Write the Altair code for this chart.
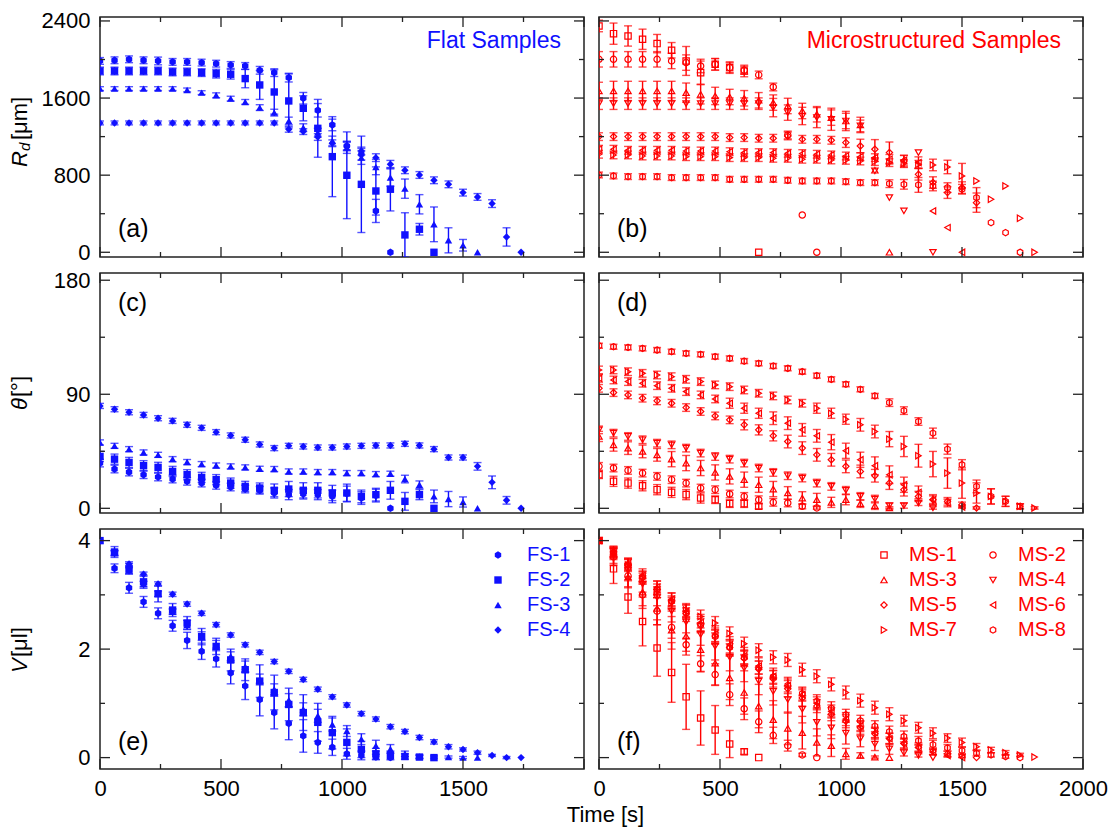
import altair as alt
import pandas as pd

# ---------------- data ----------------
TIME = [0, 60, 120, 180, 240, 300, 360, 420, 480, 540, 600, 660, 720, 780, 840, 900,
        960, 1020, 1080, 1140, 1200, 1260, 1320, 1380, 1440, 1500, 1560, 1620, 1680, 1740, 1800]

FS_NAMES = ["FS-1", "FS-2", "FS-3", "FS-4"]
MS_NAMES = ["MS-1", "MS-2", "MS-3", "MS-4", "MS-5", "MS-6", "MS-7", "MS-8"]
MS_LEGEND_ORDER = ["MS-1", "MS-3", "MS-5", "MS-7", "MS-2", "MS-4", "MS-6", "MS-8"]

# (a) contact radius, flat samples [um]
FS1_RD = [1985, 1992, 2002, 1992, 1985, 1975, 1975, 1968, 1957, 1943, 1933, 1888, 1864, 1812, 1598, 1473, 1321, 1103, 1017, 429, 0]
FS2_RD = [1881, 1881, 1881, 1881, 1881, 1871, 1871, 1864, 1853, 1847, 1802, 1736, 1663, 1570, 1494, 1286, 992, 799, 705, 636, 654, 180, 239, 0]
FS3_RD = [1698, 1698, 1698, 1698, 1698, 1698, 1684, 1656, 1629, 1594, 1560, 1501, 1449, 1362, 1293, 1241, 1155, 1086, 982, 885, 775, 660, 498, 290, 124, 73, 0]
FS4_RD = [1342, 1342, 1342, 1342, 1342, 1342, 1342, 1342, 1342, 1342, 1342, 1342, 1342, 1276, 1252, 1196, 1131, 1103, 1051, 982, 913, 851, 802, 747, 705, 619, 574, 505, 159, 0]
FS1_RD_E = [35, 35, 35, 35, 40, 35, 35, 35, 35, 35, 35, 40, 40, 45, 60, 70, 60, 50, 60, 120, 0]
FS2_RD_E = [40, 40, 40, 40, 40, 40, 40, 40, 45, 50, 95, 150, 230, 280, 130, 300, 415, 450, 500, 250, 225, 230, 60, 0]
FS3_RD_E = [20, 20, 20, 20, 20, 20, 20, 20, 25, 25, 25, 30, 35, 40, 40, 45, 50, 60, 70, 80, 90, 100, 100, 180, 130, 60, 0]
FS4_RD_E = [20, 20, 20, 20, 20, 20, 20, 20, 20, 20, 20, 20, 20, 30, 30, 35, 35, 40, 40, 40, 40, 35, 35, 35, 35, 35, 35, 40, 95, 0]

# (c) contact angle, flat samples [deg]
FS1_TH = [35.7, 31.0, 28.6, 26.5, 24.7, 23.1, 21.3, 19.9, 18.1, 16.8, 15.2, 14.2, 12.1, 10.8, 11.3, 10.8, 9.4, 11.5, 8.1, 10.0, 0]
FS2_TH = [40.9, 38.8, 36.2, 33.6, 32.3, 29.1, 26.5, 24.4, 22.6, 19.9, 17.3, 16.0, 14.2, 15.2, 14.2, 14.2, 12.1, 12.1, 9.4, 10.8, 14.2, 5.5, 10.8, 0]
FS3_TH = [52.0, 49.3, 46.7, 44.1, 42.2, 38.8, 36.5, 34.9, 33.8, 33.1, 32.3, 31.2, 31.0, 29.1, 29.1, 28.6, 28.6, 27.8, 27.8, 27.0, 27.3, 23.1, 18.6, 9.4, 7.3, 5.0, 0]
FS4_TH = [80.8, 78.2, 75.8, 73.7, 71.1, 69.0, 65.9, 63.5, 60.1, 57.5, 54.1, 50.4, 47.5, 49.3, 48.8, 48.0, 48.0, 48.8, 49.3, 49.6, 49.6, 50.9, 49.6, 46.7, 40.1, 40.1, 33.1, 20.5, 6.3, 0]
FS1_TH_E = [3, 3, 3, 3, 3, 3, 3, 3, 3, 3, 3, 3, 4, 4, 4, 4, 5, 6, 5, 5, 0]
FS2_TH_E = [4, 4, 4, 4, 4, 4, 4, 4, 4, 4, 4, 4, 5, 6, 6, 6, 6, 7, 5, 5, 7, 7, 4, 0]
FS3_TH_E = [2, 2, 2, 2, 2, 2, 2, 2, 2, 2, 2, 2, 2, 2, 2, 2, 2, 2, 2, 2, 2, 3, 3, 5, 6, 4, 0]
FS4_TH_E = [2, 2, 2, 2, 2, 2, 2, 2, 2, 2, 2, 2, 2, 2, 2, 2, 2, 2, 2, 2, 2, 2, 2, 2, 2, 2, 3, 5, 3, 0]

# (e) volume, flat samples [ul]
FS1_V = [4.0, 3.49, 3.13, 2.87, 2.66, 2.43, 2.16, 1.96, 1.82, 1.56, 1.32, 1.07, 0.83, 0.63, 0.40, 0.28, 0.19, 0.07, 0.04, 0.01, 0]
FS2_V = [4.0, 3.79, 3.48, 3.24, 3.02, 2.72, 2.48, 2.23, 2.05, 1.80, 1.62, 1.41, 1.20, 0.98, 0.83, 0.65, 0.46, 0.28, 0.15, 0.07, 0.04, 0.02, 0.01, 0]
FS3_V = [4.0, 3.77, 3.45, 3.20, 3.02, 2.69, 2.45, 2.24, 2.08, 1.87, 1.68, 1.44, 1.26, 1.06, 0.89, 0.77, 0.61, 0.49, 0.34, 0.22, 0.16, 0.07, 0.02, 0.01, 0.01, 0, 0]
FS4_V = [4.0, 3.77, 3.57, 3.38, 3.20, 3.01, 2.83, 2.66, 2.45, 2.26, 2.08, 1.94, 1.77, 1.59, 1.44, 1.26, 1.12, 0.97, 0.81, 0.71, 0.57, 0.48, 0.37, 0.29, 0.20, 0.15, 0.09, 0.04, 0.0, 0.0]
FS1_V_E = [0, 0.08, 0.1, 0.1, 0.1, 0.1, 0.15, 0.15, 0.15, 0.2, 0.25, 0.3, 0.3, 0.3, 0.3, 0.2, 0.15, 0.1, 0.08, 0.05, 0]
FS2_V_E = [0, 0.1, 0.1, 0.12, 0.15, 0.12, 0.12, 0.15, 0.15, 0.2, 0.2, 0.3, 0.32, 0.3, 0.33, 0.35, 0.3, 0.25, 0.15, 0.1, 0.08, 0.05, 0.03, 0]
FS3_V_E = [0, 0.05, 0.05, 0.05, 0.05, 0.05, 0.08, 0.08, 0.08, 0.08, 0.1, 0.1, 0.1, 0.12, 0.12, 0.12, 0.12, 0.1, 0.1, 0.1, 0.08, 0.05, 0.03, 0.02, 0.02, 0.02, 0]
FS4_V_E = [0, 0.04, 0.04, 0.04, 0.04, 0.04, 0.04, 0.04, 0.04, 0.04, 0.04, 0.04, 0.04, 0.04, 0.04, 0.04, 0.04, 0.04, 0.04, 0.04, 0.04, 0.04, 0.04, 0.04, 0.04, 0.03, 0.03, 0.02, 0.02, 0]

# (b) contact radius, microstructured samples [um]
MS1_RD = [2348, 2268, 2244, 2210, 2165, 2096, 1985, 1864, 1950, 1916, 1881, 0]
MS2_RD = [2002, 2002, 2002, 2002, 2002, 1985, 1968, 1933, 1950, 1916, 1888, 1840, 1715, 1217, 387, 0]
MS3_RD = [1674, 1674, 1674, 1674, 1674, 1674, 1656, 1639, 1622, 1611, 1598, 1577, 1553, 1518, 1466, 1432, 1397, 1362, 1321, 851, 0]
MS4_RD = [1542, 1542, 1542, 1542, 1542, 1542, 1542, 1542, 1542, 1542, 1542, 1542, 1501, 1449, 1414, 1397, 1380, 1362, 1311, 844, 567, 429, 1034, 0]
MS5_RD = [1200, 1200, 1200, 1200, 1200, 1200, 1200, 1200, 1200, 1190, 1190, 1183, 1183, 1207, 1172, 1172, 1162, 1138, 1103, 1069, 1034, 947, 809, 723, 619, 671, 515]
MS6_RD = [1069, 1069, 1058, 1058, 1058, 1058, 1051, 1051, 1051, 1044, 1034, 1034, 1034, 1027, 1024, 1017, 1010, 999, 992, 982, 965, 954, 930, 429, 256, 0]
MS7_RD = [1017, 1010, 1010, 999, 999, 999, 992, 992, 992, 982, 982, 982, 975, 975, 965, 965, 958, 954, 947, 941, 930, 920, 913, 906, 885, 792, 740, 550, 688, 353, 0]
MS8_RD = [802, 792, 785, 785, 785, 775, 775, 775, 775, 757, 757, 757, 757, 747, 740, 740, 740, 733, 723, 723, 712, 705, 699, 688, 671, 654, 567, 308, 204, 0]
MS1_RD_E = [60, 110, 105, 105, 95, 80, 150, 120, 60, 60, 60, 0]
MS2_RD_E = [80, 80, 80, 80, 80, 80, 80, 70, 60, 50, 40, 40, 40, 40, 0, 0]
MS3_RD_E = [90, 100, 100, 100, 100, 100, 100, 100, 90, 80, 80, 80, 80, 80, 80, 80, 80, 80, 80, 0, 0]
MS4_RD_E = [60, 60, 60, 60, 60, 60, 60, 60, 60, 60, 60, 60, 95, 80, 90, 104, 115, 100, 60, 0, 0, 0, 0, 0]
MS5_RD_E = [40, 40, 40, 40, 40, 40, 40, 40, 40, 40, 40, 40, 40, 40, 40, 40, 40, 50, 70, 100, 110, 60, 60, 60, 60, 60, 100]
MS6_RD_E = [40, 40, 40, 40, 40, 40, 40, 40, 40, 40, 40, 40, 40, 40, 40, 40, 40, 40, 40, 40, 50, 50, 60, 0, 0, 0]
MS7_RD_E = [40, 40, 40, 40, 40, 40, 40, 40, 40, 40, 40, 40, 40, 40, 40, 40, 40, 40, 40, 40, 40, 40, 40, 60, 70, 130, 0, 0, 0, 0, 0]
MS8_RD_E = [30, 30, 30, 30, 30, 30, 30, 30, 30, 30, 30, 30, 30, 30, 30, 30, 30, 30, 30, 30, 40, 50, 77, 50, 50, 50, 104, 0, 0, 0]

# (d) contact angle, microstructured samples [deg]
MS1_TH = [26.5, 21.3, 19.9, 17.8, 14.7, 12.6, 10.8, 8.1, 6.8, 3.7, 3.7, 1.6]
MS2_TH = [33.1, 31.8, 29.9, 27.8, 25.2, 22.6, 19.9, 16.0, 14.7, 11.3, 9.4, 6.8, 4.7, 4.2, 1.6, 0.3]
MS3_TH = [56.7, 50.1, 47.5, 44.9, 42.2, 38.8, 35.7, 31.8, 28.3, 25.2, 22.6, 18.6, 15.2, 12.1, 8.1, 6.8, 4.7, 6.8, 3.7, 2.1, 0.3]
MS4_TH = [61.9, 59.3, 56.7, 54.1, 51.4, 50.1, 47.5, 43.6, 40.9, 38.8, 35.7, 31.8, 28.3, 25.7, 23.9, 19.9, 17.3, 14.2, 9.4, 7.3, 2.1, 2.1, 4.2, 0.3]
MS5_TH = [94.7, 91.3, 89.5, 86.9, 84.8, 82.9, 79.5, 76.4, 72.9, 69.8, 65.9, 61.9, 57.2, 52.7, 47.5, 42.2, 38.3, 33.1, 29.1, 25.7, 19.9, 14.7, 9.4, 6.8, 5.5, 2.9, 0.3]
MS6_TH = [102.6, 101.3, 100.0, 98.7, 96.8, 94.7, 92.1, 89.5, 86.3, 82.9, 79.0, 75.0, 71.1, 67.2, 61.9, 57.2, 52.2, 45.4, 38.3, 33.6, 26.5, 18.6, 12.6, 6.8, 4.2, 1.0]
MS7_TH = [109.2, 109.2, 107.8, 106.5, 105.2, 103.9, 101.8, 100.0, 97.4, 96.0, 93.4, 90.8, 88.7, 85.5, 82.9, 79.0, 75.0, 70.3, 65.9, 60.6, 54.6, 48.8, 41.5, 34.9, 27.8, 19.9, 12.1, 9.4, 5.5, 1.6, 0.3]
MS8_TH = [128.3, 127.5, 127.0, 126.2, 124.9, 123.6, 122.3, 121.5, 119.7, 118.3, 116.2, 114.4, 112.3, 110.5, 107.8, 104.7, 101.8, 97.9, 93.9, 88.7, 83.4, 77.1, 68.5, 59.3, 46.7, 34.4, 17.3, 9.4, 5.5, 1.6]
MS1_TH_E = [3, 4, 4, 4, 4, 4, 4, 4, 3, 3, 3, 2]
MS2_TH_E = [3, 3, 3, 3, 3, 3, 3, 3, 3, 3, 3, 3, 3, 3, 2, 1]
MS3_TH_E = [4, 5, 5, 5, 5, 6, 6, 6, 6, 6, 6, 6, 6, 5, 5, 5, 4, 4, 3, 3, 1]
MS4_TH_E = [3, 3, 3, 3, 3, 3, 3, 3, 3, 3, 3, 3, 3, 3, 3, 3, 3, 3, 3, 3, 2, 2, 2, 1]
MS5_TH_E = [3, 3, 3, 3, 3, 3, 3, 3, 3, 3, 4, 4, 4, 5, 5, 5, 5, 5, 5, 5, 5, 5, 4, 3, 3, 2, 1]
MS6_TH_E = [3, 3, 3, 3, 3, 3, 3, 3, 3, 4, 4, 4, 5, 5, 5, 5, 6, 6, 6, 7, 7, 6, 5, 4, 3, 1]
MS7_TH_E = [3, 3, 3, 3, 3, 3, 3, 3, 3, 3, 3, 3, 3, 3, 3, 4, 4, 4, 5, 5, 6, 8, 9, 10, 12, 12, 8, 6, 4, 2, 1]
MS8_TH_E = [2, 2, 2, 2, 2, 2, 2, 2, 2, 2, 2, 2, 2, 2, 2, 2, 2, 2, 2, 2, 3, 3, 3, 4, 4, 4, 5, 6, 4, 2]

# (f) volume, microstructured samples [ul]
MS1_V = [4.0, 3.48, 2.96, 2.51, 2.02, 1.57, 1.12, 0.73, 0.51, 0.25, 0.11, 0.0]
MS2_V = [4.0, 3.7, 3.35, 3.0, 2.7, 2.4, 2.08, 1.73, 1.53, 1.16, 0.90, 0.66, 0.41, 0.22, 0.05, 0.0]
MS3_V = [4.0, 3.73, 3.33, 3.05, 2.75, 2.35, 2.24, 1.99, 1.74, 1.47, 1.20, 0.95, 0.70, 0.54, 0.46, 0.28, 0.22, 0.07, 0.04, 0.01, 0.0]
MS4_V = [4.0, 3.75, 3.45, 3.2, 2.95, 2.7, 2.5, 2.27, 2.05, 1.85, 1.65, 1.41, 1.22, 1.07, 0.89, 0.65, 0.55, 0.45, 0.35, 0.25, 0.16, 0.09, 0.04, 0.0]
MS5_V = [4.0, 3.78, 3.55, 3.32, 3.1, 2.88, 2.66, 2.45, 2.24, 2.03, 1.83, 1.63, 1.45, 1.27, 1.1, 0.95, 0.8, 0.67, 0.55, 0.44, 0.35, 0.26, 0.19, 0.12, 0.07, 0.03, 0.0]
MS6_V = [4.0, 3.8, 3.58, 3.36, 3.14, 2.92, 2.7, 2.49, 2.28, 2.08, 1.88, 1.69, 1.5, 1.33, 1.16, 1.0, 0.85, 0.71, 0.58, 0.46, 0.35, 0.26, 0.18, 0.1, 0.04, 0.0]
MS7_V = [4.0, 3.8, 3.55, 3.3, 3.05, 2.85, 2.72, 2.6, 2.48, 2.29, 2.1, 1.98, 1.85, 1.80, 1.62, 1.50, 1.35, 1.2, 1.05, 0.92, 0.8, 0.68, 0.55, 0.45, 0.36, 0.28, 0.2, 0.14, 0.09, 0.05, 0.01]
MS8_V = [4.0, 3.78, 3.56, 3.33, 3.1, 2.88, 2.66, 2.44, 2.23, 2.03, 1.84, 1.66, 1.49, 1.33, 1.18, 1.04, 0.91, 0.79, 0.68, 0.58, 0.48, 0.39, 0.31, 0.24, 0.18, 0.13, 0.08, 0.05, 0.02, 0.0]
MS1_V_E = [0, 0.27, 0.3, 0.45, 0.52, 0.55, 0.6, 0.5, 0.45, 0.25, 0.05, 0]
MS2_V_E = [0, 0.15, 0.2, 0.25, 0.25, 0.2, 0.12, 0.15, 0.2, 0.2, 0.2, 0.2, 0.15, 0.1, 0.03, 0]
MS3_V_E = [0, 0.15, 0.2, 0.25, 0.3, 0.35, 0.35, 0.4, 0.4, 0.4, 0.4, 0.4, 0.35, 0.3, 0.3, 0.25, 0.2, 0.1, 0.05, 0.02, 0]
MS4_V_E = [0, 0.1, 0.12, 0.15, 0.15, 0.2, 0.2, 0.2, 0.25, 0.25, 0.25, 0.25, 0.25, 0.25, 0.25, 0.25, 0.2, 0.2, 0.15, 0.12, 0.1, 0.06, 0.03, 0]
MS5_V_E = [0, 0.1, 0.12, 0.12, 0.15, 0.15, 0.15, 0.15, 0.15, 0.15, 0.15, 0.15, 0.15, 0.15, 0.15, 0.12, 0.12, 0.12, 0.12, 0.1, 0.1, 0.1, 0.08, 0.06, 0.05, 0.03, 0]
MS6_V_E = [0, 0.1, 0.1, 0.12, 0.12, 0.12, 0.12, 0.15, 0.15, 0.15, 0.15, 0.15, 0.15, 0.15, 0.12, 0.12, 0.12, 0.12, 0.1, 0.1, 0.1, 0.08, 0.06, 0.05, 0.03, 0]
MS7_V_E = [0, 0.08, 0.1, 0.1, 0.1, 0.1, 0.12, 0.12, 0.12, 0.12, 0.12, 0.12, 0.12, 0.12, 0.12, 0.12, 0.12, 0.12, 0.12, 0.12, 0.12, 0.1, 0.1, 0.1, 0.08, 0.08, 0.06, 0.05, 0.04, 0.03, 0]
MS8_V_E = [0, 0.08, 0.1, 0.1, 0.1, 0.1, 0.1, 0.12, 0.12, 0.12, 0.12, 0.12, 0.12, 0.12, 0.12, 0.12, 0.12, 0.1, 0.1, 0.1, 0.1, 0.1, 0.08, 0.08, 0.06, 0.06, 0.05, 0.04, 0.03, 0]

# axis ticks / labels
X_MAJ = [0, 500, 1000, 1500, 2000]
X_MIN = [250, 750, 1250, 1750]
X_LAB_L = [0, 500, 1000, 1500]
X_LAB_R = [0, 500, 1000, 1500, 2000]
RD_MAJ, RD_MIN = [0, 800, 1600, 2400], [400, 1200, 2000]
TH_MAJ, TH_MIN = [0, 90, 180], [45, 135]
V_MAJ, V_MIN = [0, 2, 4], [1, 3]

# ---------------- styling ----------------
FONT = "Liberation Sans"
BLUE = "#1010ff"
RED = "#ff0000"
DARK = "#222222"
W, H = 484, 240
HEX = "M0,-1L0.866,-0.5L0.866,0.5L0,1L-0.866,0.5L-0.866,-0.5Z"
FS_SHAPE = {"FS-1": HEX, "FS-2": "square", "FS-3": "triangle-up", "FS-4": "diamond"}
MS_SHAPE = {"MS-1": "square", "MS-2": "circle", "MS-3": "triangle-up", "MS-4": "triangle-down",
            "MS-5": "diamond", "MS-6": "triangle-left", "MS-7": "triangle-right", "MS-8": HEX}
DUMMY = pd.DataFrame({"k": [0]})


def build(names, vals, errs):
    rows = []
    for n, v, e in zip(names, vals, errs):
        for i in range(len(v)):
            rows.append({"t": TIME[i], "v": v[i], "lo": v[i] - e[i], "hi": v[i] + e[i],
                         "e": e[i], "s": n})
    return pd.DataFrame(rows)


def text_layer(txt, x, y, size, color="black", align="left", angle=0, italic=False):
    kw = dict(text=txt, align=align, baseline="middle", fontSize=size, font=FONT,
              color=color, angle=angle)
    if italic:
        kw["fontStyle"] = "italic"
    return alt.Chart(DUMMY).mark_text(**kw).encode(x=alt.value(x), y=alt.value(y))


def panel(df, order, shape_map, color, filled, ydom, ymaj, ymin, xlab=None, ylab=None,
          xtitle=False, tag="", tag_y=212, legend=None, texts=()):
    xs = alt.Scale(domain=[0, 2000], nice=False, zero=False)
    ys = alt.Scale(domain=ydom, nice=False, zero=False)
    if xlab is not None:
        kw = dict(values=xlab, ticks=False, domain=False, grid=False, labelFont=FONT,
                  labelFontSize=22, labelColor="black", labelPadding=9, labelFlush=False,
                  labelOverlap=False, format="d", title=None)
        if xtitle:
            kw.update(title="Time [s]", titleFont=FONT, titleFontSize=22,
                      titleFontWeight="normal", titleColor="black", titleX=6, titleY=45,
                      titleAlign="center", titleBaseline="middle")
        xaxis = alt.Axis(**kw)
    else:
        xaxis = None
    if ylab is not None:
        yaxis = alt.Axis(values=ylab, ticks=False, domain=False, grid=False, labelFont=FONT,
                         labelFontSize=22, labelColor="black", labelPadding=10,
                         labelFlush=False, labelOverlap=False, format="d", title=None)
    else:
        yaxis = None

    def X(f):
        return alt.X(f, type="quantitative", scale=xs, axis=xaxis)

    def Y(f):
        return alt.Y(f, type="quantitative", scale=ys, axis=yaxis)

    err = df[df["e"] > 0]
    layers = [
        alt.Chart(err).mark_rule(color=color, strokeWidth=1.4, clip=True).encode(
            x=X("t"), y=Y("lo"), y2=alt.Y2("hi")),
        alt.Chart(err).mark_tick(color=color, orient="horizontal", size=8, thickness=1.4,
                                 clip=True).encode(x=X("t"), y=Y("lo")),
        alt.Chart(err).mark_tick(color=color, orient="horizontal", size=8, thickness=1.4,
                                 clip=True).encode(x=X("t"), y=Y("hi")),
    ]
    pt_kw = dict(filled=filled, color=color, size=55 if filled else 40, strokeWidth=1.2,
                 opacity=1, clip=True)
    layers.append(alt.Chart(df).mark_point(**pt_kw).encode(
        x=X("t"), y=Y("v"),
        shape=alt.Shape("s:N", scale=alt.Scale(domain=order,
                                               range=[shape_map[n] for n in order]),
                        legend=legend)))

    for vals, L in ((ymaj, 10), (ymin, 5)):
        d = pd.DataFrame({"tv": vals})
        layers.append(alt.Chart(d).mark_rule(color=DARK, strokeWidth=1.3).encode(
            y=Y("tv"), x=alt.value(0), x2=alt.value(L)))
        layers.append(alt.Chart(d).mark_rule(color=DARK, strokeWidth=1.3).encode(
            y=Y("tv"), x=alt.value(W - L), x2=alt.value(W)))
    for vals, L in ((X_MAJ, 10), (X_MIN, 5)):
        d = pd.DataFrame({"tv": vals})
        layers.append(alt.Chart(d).mark_rule(color=DARK, strokeWidth=1.3).encode(
            x=X("tv"), y=alt.value(H - L), y2=alt.value(H)))
        layers.append(alt.Chart(d).mark_rule(color=DARK, strokeWidth=1.3).encode(
            x=X("tv"), y=alt.value(0), y2=alt.value(L)))

    layers.append(text_layer(tag, 18, tag_y, 25))
    layers.extend(texts)
    return alt.layer(*layers).properties(width=W, height=H)


def fs_legend():
    return alt.Legend(orient="none", legendX=388, legendY=16, title=None, labelFont=FONT,
                      labelFontSize=20, labelColor=BLUE, symbolSize=55, symbolFillColor=BLUE,
                      symbolStrokeColor=BLUE, symbolStrokeWidth=1, rowPadding=5,
                      labelOffset=19, padding=0)


def ms_legend():
    return alt.Legend(orient="none", legendX=275, legendY=16, title=None, labelFont=FONT,
                      labelFontSize=20, labelColor=RED, symbolSize=40,
                      symbolFillColor="transparent", symbolStrokeColor=RED,
                      symbolStrokeWidth=1.2, rowPadding=5, labelOffset=15, columns=2,
                      columnPadding=26, padding=0)


YT = -80
rd_title = [
    text_layer("R", YT, 115 + 35, 22, angle=270, italic=True),
    text_layer("d", YT + 5, 115 + 19, 15, angle=270, italic=True),
    text_layer("[\u03bcm]", YT, 115 + 8, 22, angle=270),
]
th_title = [
    text_layer("\u03b8", YT, 120 + 17, 22, angle=270, italic=True),
    text_layer("[\u00b0]", YT, 120 + 4, 22, angle=270),
]
v_title = [
    text_layer("V", YT, 120 + 24, 22, angle=270, italic=True),
    text_layer("[\u03bcl]", YT, 120 + 8, 22, angle=270),
]

df_a = build(FS_NAMES, [FS1_RD, FS2_RD, FS3_RD, FS4_RD], [FS1_RD_E, FS2_RD_E, FS3_RD_E, FS4_RD_E])
df_c = build(FS_NAMES, [FS1_TH, FS2_TH, FS3_TH, FS4_TH], [FS1_TH_E, FS2_TH_E, FS3_TH_E, FS4_TH_E])
df_e = build(FS_NAMES, [FS1_V, FS2_V, FS3_V, FS4_V], [FS1_V_E, FS2_V_E, FS3_V_E, FS4_V_E])
df_b = build(MS_NAMES, [MS1_RD, MS2_RD, MS3_RD, MS4_RD, MS5_RD, MS6_RD, MS7_RD, MS8_RD],
             [MS1_RD_E, MS2_RD_E, MS3_RD_E, MS4_RD_E, MS5_RD_E, MS6_RD_E, MS7_RD_E, MS8_RD_E])
df_d = build(MS_NAMES, [MS1_TH, MS2_TH, MS3_TH, MS4_TH, MS5_TH, MS6_TH, MS7_TH, MS8_TH],
             [MS1_TH_E, MS2_TH_E, MS3_TH_E, MS4_TH_E, MS5_TH_E, MS6_TH_E, MS7_TH_E, MS8_TH_E])
df_f = build(MS_NAMES, [MS1_V, MS2_V, MS3_V, MS4_V, MS5_V, MS6_V, MS7_V, MS8_V],
             [MS1_V_E, MS2_V_E, MS3_V_E, MS4_V_E, MS5_V_E, MS6_V_E, MS7_V_E, MS8_V_E])

RD_DOM = [-49, 2441]
TH_DOM = [-3.7, 185.7]
V_DOM = [-0.21, 4.214]

pa = panel(df_a, FS_NAMES, FS_SHAPE, BLUE, True, RD_DOM, RD_MAJ, RD_MIN, ylab=RD_MAJ,
           tag="(a)", tag_y=212,
           texts=[text_layer("Flat Samples", 461, 24, 23, color=BLUE, align="right")] + rd_title)
pb = panel(df_b, MS_LEGEND_ORDER, MS_SHAPE, RED, False, RD_DOM, RD_MAJ, RD_MIN, tag="(b)",
           tag_y=212,
           texts=[text_layer("Microstructured Samples", 462, 24, 23, color=RED, align="right")])
pc = panel(df_c, FS_NAMES, FS_SHAPE, BLUE, True, TH_DOM, TH_MAJ, TH_MIN, ylab=TH_MAJ,
           tag="(c)", tag_y=30, texts=th_title)
pd_ = panel(df_d, MS_LEGEND_ORDER, MS_SHAPE, RED, False, TH_DOM, TH_MAJ, TH_MIN, tag="(d)",
            tag_y=30)
pe = panel(df_e, FS_NAMES, FS_SHAPE, BLUE, True, V_DOM, V_MAJ, V_MIN, xlab=X_LAB_L, ylab=V_MAJ,
           tag="(e)", tag_y=213, legend=fs_legend(), texts=v_title)
pf = panel(df_f, MS_LEGEND_ORDER, MS_SHAPE, RED, False, V_DOM, V_MAJ, V_MIN, xlab=X_LAB_R,
           xtitle=True, tag="(f)", tag_y=213, legend=ms_legend())

chart = alt.concat(pa, pb, pc, pd_, pe, pf, columns=2, bounds="flush",
                   spacing={"row": 16, "column": 15}).resolve_scale(
    shape="independent").resolve_legend(shape="independent").properties(
    padding={"left": 8, "top": 9, "right": 2, "bottom": 2}, background="white"
).configure(font=FONT).configure_view(stroke=DARK, strokeWidth=1.5)

chart.save("out.html", embed_options={"renderer": "svg", "actions": False})
